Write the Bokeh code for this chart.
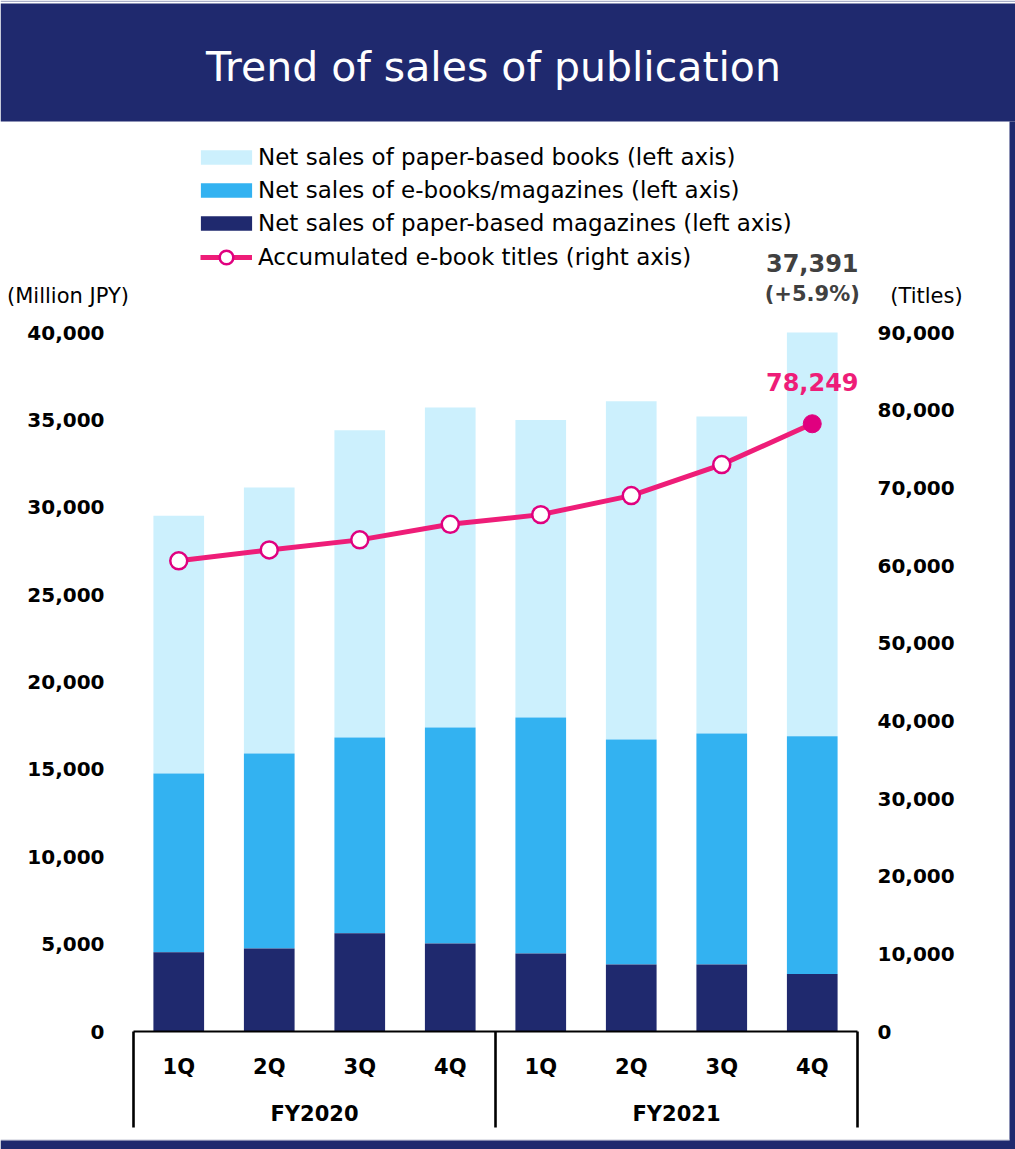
from bokeh.plotting import figure
from bokeh.models import (ColumnDataSource, Range1d, LinearAxis, FixedTicker,
                          NumeralTickFormatter, Legend, LegendItem, Label, BoxAnnotation)
from bokeh.embed import file_html
from bokeh.resources import INLINE

# ---------------- data ----------------
years = ["FY2020"] * 4 + ["FY2021"] * 4
quarters = ["1Q", "2Q", "3Q", "4Q", "1Q", "2Q", "3Q", "4Q"]
paper_books = [14760, 15220, 17580, 18310, 17030, 19360, 18140, 23100]
ebooks = [10230, 11160, 11200, 12370, 13510, 12870, 13210, 13610]
paper_magazines = [4530, 4750, 5620, 5030, 4460, 3840, 3840, 3290]
ebook_titles = [60600, 62000, 63300, 65300, 66550, 69000, 73000, 78249]
left_ticks = [0, 5000, 10000, 15000, 20000, 25000, 30000, 35000, 40000]
right_ticks = [0, 10000, 20000, 30000, 40000, 50000, 60000, 70000, 80000, 90000]
title_text = "Trend of sales of publication"
legend_labels = ["Net sales of paper-based books (left axis)",
                 "Net sales of e-books/magazines (left axis)",
                 "Net sales of paper-based magazines (left axis)",
                 "Accumulated e-book titles (right axis)"]
last_total_label = "37,391"
last_growth_label = "(+5.9%)"

# ---------------- style / layout ----------------
NAVY = "#1F296E"
C_BOOKS = "#CCF0FD"
C_EBOOKS = "#33B2F1"
C_MAGS = NAVY
PINK = "#EE1D78"
MAGENTA = "#E0007F"
FONT = "DejaVu Sans"

W, H = 1015, 1149
X0, X1 = 133, 857          # pixel span of the 8 category slots
Y_ZERO, Y_TOP = 1031, 332  # pixel rows of 0 and of the top tick
BAR_W = 0.56

n = len(quarters)
SX = (X1 - X0) / n
PXY = (Y_ZERO - Y_TOP) / left_ticks[-1]
PXR = (Y_ZERO - Y_TOP) / right_ticks[-1]


def dx(px):
    return (px - X0) / SX


def dy(py):
    return (Y_ZERO - py) / PXY


p = figure(width=W, height=H,
           x_range=Range1d(dx(0), dx(W)), y_range=Range1d(dy(H), dy(0)),
           x_axis_location=None, y_axis_location=None, min_border=0,
           output_backend="svg", toolbar_location=None)
p.extra_y_ranges = {"titles": Range1d((Y_ZERO - H) / PXR, Y_ZERO / PXR)}
p.outline_line_color = None
p.grid.visible = False
p.background_fill_color = "white"
p.border_fill_color = "white"


def box(l, r, t, b, color):
    p.add_layout(BoxAnnotation(left=dx(l), right=dx(r), top=dy(t), bottom=dy(b),
                               fill_color=color, fill_alpha=1, line_color=None))


# page frame: banner, right strip, bottom band
box(0, W, 0, 1.5, "#A9AEC8")
box(0, W, 3, 121, NAVY)
box(1009, W, 121, H, NAVY)
box(0, 1009, 1139, 1140, "#C5C8D6")
box(0, W, 1140, H, NAVY)

p.add_layout(Label(x=dx(493), y=dy(66), text=title_text, text_align="center",
                   text_baseline="middle", text_font=FONT, text_font_size="41px",
                   text_color="white"))

# ---------------- data marks ----------------
xc = [i + 0.5 for i in range(n)]
mag_top = list(paper_magazines)
ebook_top = [m + e for m, e in zip(paper_magazines, ebooks)]
total_top = [t + b for t, b in zip(ebook_top, paper_books)]
src = ColumnDataSource(dict(x=xc, mag_top=mag_top, ebook_top=ebook_top,
                            total_top=total_top, titles=ebook_titles))

r_books = p.vbar(x="x", bottom="ebook_top", top="total_top", width=BAR_W, source=src,
                 fill_color=C_BOOKS, line_color=None)
r_ebooks = p.vbar(x="x", bottom="mag_top", top="ebook_top", width=BAR_W, source=src,
                  fill_color=C_EBOOKS, line_color=None)
r_mags = p.vbar(x="x", bottom=0, top="mag_top", width=BAR_W, source=src,
                fill_color=C_MAGS, line_color=None)

r_line = p.line(x="x", y="titles", source=src, line_color=PINK, line_width=5,
                y_range_name="titles")
open_src = ColumnDataSource(dict(x=xc[:-1], titles=ebook_titles[:-1]))
last_src = ColumnDataSource(dict(x=xc[-1:], titles=ebook_titles[-1:]))
r_pts = p.scatter(x="x", y="titles", source=open_src, size=17, fill_color="white",
                  line_color=MAGENTA, line_width=2.5, y_range_name="titles")
p.scatter(x="x", y="titles", source=last_src, size=18, fill_color=MAGENTA,
          line_color=MAGENTA, line_width=1, y_range_name="titles")

p.add_layout(Label(x=xc[-1], y=ebook_titles[-1], y_range_name="titles", y_offset=42,
                   text=f"{ebook_titles[-1]:,}", text_align="center", text_baseline="middle",
                   text_font=FONT, text_font_style="bold", text_font_size="24px",
                   text_color=PINK))
p.add_layout(Label(x=xc[-1], y=dy(262), text=last_total_label, text_align="center",
                   text_baseline="middle", text_font=FONT, text_font_style="bold",
                   text_font_size="24px", text_color="#404040"))
p.add_layout(Label(x=xc[-1], y=dy(293), text=last_growth_label, text_align="center",
                   text_baseline="middle", text_font=FONT, text_font_style="bold",
                   text_font_size="21px", text_color="#404040"))

# unit captions
p.add_layout(Label(x=dx(67.5), y=dy(295), text="(Million JPY)", text_align="center",
                   text_baseline="middle", text_font=FONT, text_font_size="21px",
                   text_color="black"))
p.add_layout(Label(x=dx(926), y=dy(295), text="(Titles)", text_align="center",
                   text_baseline="middle", text_font=FONT, text_font_size="21px",
                   text_color="black"))

# group separators at fiscal-year boundaries
n20 = years.count(years[0])
bounds = [0, n20, n]
p.segment(x0=bounds, y0=[0] * 3, x1=bounds, y1=[dy(1127)] * 3,
          line_color="black", line_width=2.6)

# ---------------- axes ----------------
def style_axis(ax, size, standoff):
    ax.axis_line_color = None
    ax.major_tick_line_color = None
    ax.minor_tick_line_color = None
    ax.major_tick_in = 0
    ax.major_tick_out = 0
    ax.minor_tick_in = 0
    ax.minor_tick_out = 0
    ax.major_label_text_font = FONT
    ax.major_label_text_font_style = "bold"
    ax.major_label_text_font_size = size
    ax.major_label_text_color = "black"
    ax.major_label_standoff = standoff


ly = LinearAxis(ticker=FixedTicker(ticks=left_ticks), formatter=NumeralTickFormatter(format="0,0"),
                fixed_location=0)
style_axis(ly, "20px", 29)
p.add_layout(ly, "left")

ry = LinearAxis(y_range_name="titles", ticker=FixedTicker(ticks=right_ticks),
                formatter=NumeralTickFormatter(format="0,0"), fixed_location=n)
style_axis(ry, "20px", 20)
p.add_layout(ry, "right")

qx = LinearAxis(ticker=FixedTicker(ticks=xc),
                major_label_overrides={x: q for x, q in zip(xc, quarters)},
                fixed_location=0)
style_axis(qx, "21px", 23)
qx.axis_line_color = "black"
qx.axis_line_width = 2
qx.bounds = (0, n)
p.add_layout(qx, "below")

group_names = [years[0], years[-1]]
group_pos = [n20 / 2, (n20 + n) / 2]
gx = LinearAxis(ticker=FixedTicker(ticks=group_pos),
                major_label_overrides={x: g for x, g in zip(group_pos, group_names)},
                fixed_location=0)
style_axis(gx, "21px", 70)
p.add_layout(gx, "below")

# ---------------- legend ----------------
common = dict(orientation="vertical", padding=0, margin=0, border_line_color=None,
              background_fill_alpha=0, label_text_font=FONT, label_text_font_size="23px",
              label_text_color="black")
leg1 = Legend(items=[LegendItem(label=legend_labels[0], renderers=[r_books]),
                     LegendItem(label=legend_labels[1], renderers=[r_ebooks]),
                     LegendItem(label=legend_labels[2], renderers=[r_mags])],
              location=(194, H - 236), glyph_width=64, glyph_height=18,
              label_standoff=0, spacing=7, **common)
leg2 = Legend(items=[LegendItem(label=legend_labels[3], renderers=[r_line, r_pts])],
              location=(200, H - 274), glyph_width=52, glyph_height=34,
              label_standoff=6, **common)
p.add_layout(leg1)
p.add_layout(leg2)

open("out.html", "w").write(file_html(p, INLINE))
